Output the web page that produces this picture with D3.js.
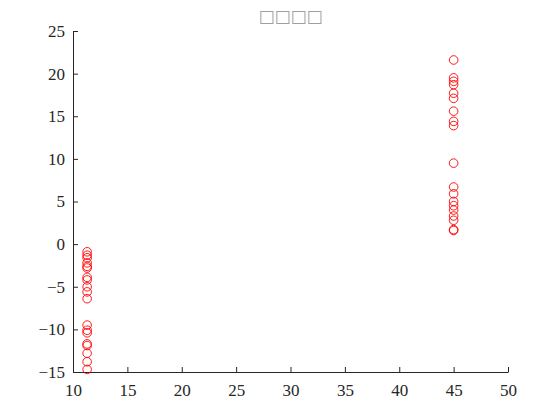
<!DOCTYPE html>
<html>
<head>
<meta charset="utf-8">
<script src="https://cdn.jsdelivr.net/npm/d3@7"></script>
<style>
  html, body { margin: 0; padding: 0; background: #fff; }
  svg { display: block; }
</style>
</head>
<body>
<div id="root"></div>
<script>
const svgWidth = 560;
const svgHeight = 420;

const titleText = "\u25A1\u25A1\u25A1\u25A1";

// left cluster
const leftX = 11.3;
const leftY = [-0.9, -1.3, -1.6, -2.2, -2.6, -2.8, -3.9, -4.2, -5.0, -5.6,
               -6.4, -9.5, -10.1, -10.4, -11.7, -11.9, -12.8, -13.8, -14.7];

// right cluster
const rightX = 45.0;
const rightY = [21.6, 19.5, 19.1, 18.7, 17.7, 17.1, 15.6, 14.4, 13.9, 9.5,
                6.7, 5.9, 5.0, 4.5, 4.0, 3.3, 2.8, 1.7, 1.6];

const xTicks = [10, 15, 20, 25, 30, 35, 40, 45, 50];
const yTicks = [-15, -10, -5, 0, 5, 10, 15, 20, 25];

const margin = {left: 73, right: 52, top: 31, bottom: 48};

const xScale = d3.scaleLinear()
      .domain([10, 50])
      .range([margin.left, svgWidth - margin.right]);

const yScale = d3.scaleLinear()
      .domain([-15, 25])
      .range([svgHeight - margin.bottom, margin.top]);

const points = leftY.map(v => ({x: leftX, y: v}))
      .concat(rightY.map(v => ({x: rightX, y: v})));

const mainSvg = d3.select("#root")
      .append("svg")
      .attr("width", svgWidth)
      .attr("height", svgHeight);

const axisColor = "#262626";

//x axis
const xAxis = mainSvg.append("g")
      .attr("transform", `translate(0,${yScale(-15)})`)
      .call(d3.axisBottom(xScale).tickValues(xTicks).tickSizeInner(-5).tickSizeOuter(0).tickPadding(12));

//y axis
const yAxis = mainSvg.append("g")
      .attr("transform", `translate(${xScale(10)},0)`)
      .call(d3.axisLeft(yScale).tickValues(yTicks).tickSizeInner(-5).tickSizeOuter(0).tickPadding(8));

[xAxis, yAxis].forEach(g => {
  g.select(".domain").attr("stroke", axisColor).attr("stroke-width", 1);
  g.selectAll(".tick line").attr("stroke", axisColor);
  g.selectAll(".tick text")
    .attr("fill", axisColor)
    .attr("font-family", "'Liberation Serif', 'Times New Roman', serif")
    .attr("font-size", "17px");
});

//points
mainSvg.append("g")
  .selectAll("circle")
  .data(points)
  .join("circle")
  .attr("cx", d => xScale(d.x))
  .attr("cy", d => yScale(d.y))
  .attr("r", 4.3)
  .attr("fill", "none")
  .attr("stroke", "#ff0000")
  .attr("stroke-width", 0.9);

//title
mainSvg.append("text")
  .attr("x", (xScale(10) + xScale(50)) / 2)
  .attr("y", 22)
  .attr("text-anchor", "middle")
  .attr("font-family", "'DejaVu Sans', sans-serif")
  .attr("font-size", "17px")
  .attr("fill", "#a0a0a0")
  .text(titleText);
</script>
</body>
</html>
